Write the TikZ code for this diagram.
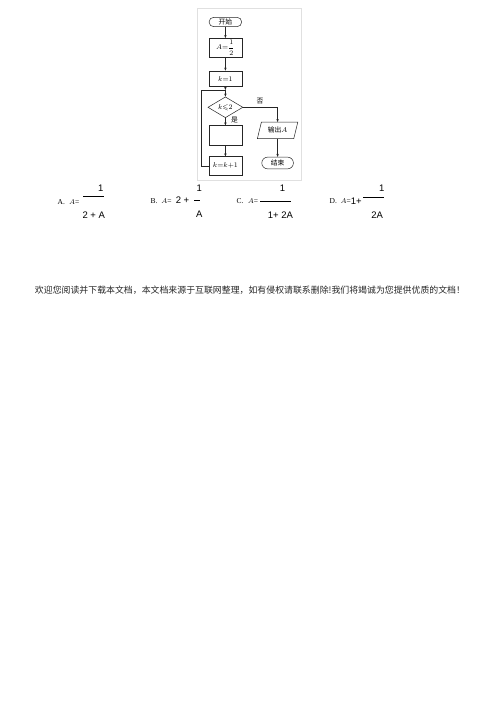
\documentclass[tikz,border=0pt]{standalone}
\usepackage{amsmath,amssymb}
\usepackage{fontspec}
\setmainfont{Liberation Serif}
\setsansfont{Liberation Sans}
\newfontfamily\cjk{Noto Sans CJK SC}
\usetikzlibrary{shapes.geometric,arrows.meta}
\tikzset{
  fl/.style={draw=black!85, line width=0.5pt},
  arr/.style={fl, -{Stealth[length=3pt,width=2.4pt]}},
  box/.style={fl, rectangle, inner sep=0pt, minimum width=33pt, font=\fontsize{7}{8}\selectfont},
  term/.style={fl, rectangle, rounded corners=4.6pt, inner sep=0pt, minimum width=32.6pt, minimum height=9.4pt, font=\cjk\fontsize{6.8}{8}\selectfont},
  dia/.style={fl, diamond, inner sep=0pt, minimum width=35pt, minimum height=18.4pt, font=\fontsize{7}{8}\selectfont},
  lbl/.style={inner sep=0pt, font=\cjk\fontsize{6.8}{8}\selectfont},
  opt/.style={inner sep=0pt, font=\fontsize{7.5}{9}\selectfont},
  num/.style={inner sep=0pt, font=\sffamily\fontsize{9.5}{11}\selectfont},
}
\begin{document}
\begin{tikzpicture}[x=1pt,y=-1pt]
\useasboundingbox (0,0) rectangle (500,707);
\fill[white] (0,0) rectangle (500,707);
% frame of the flowchart picture
\draw[black!12, line width=0.6pt] (197.7,8.3) rectangle (301.7,180);
% flowchart nodes
\node[term] (start) at (225.4,22) {开始};
\node[box, minimum height=19pt] (a) at (225.4,47.8) {$A{=}\dfrac{1}{2}$};
\node[box, minimum height=15.7pt] (k1) at (225.4,78.8) {$k{=}1$};
\coordinate (j) at (225.4,90);
\node[dia] (d) at (225.4,107.3) {$k{\leqslant}2$};
\node[box, minimum height=19.3pt] (e) at (225.4,135.3) {};
\node[box, minimum height=18.3pt] (kk) at (225.4,165.8) {$k{=}k{+}1$};
\node[inner sep=0pt, minimum width=40pt, minimum height=16pt, font=\fontsize{6.8}{8}\selectfont] (out) at (277.6,130.3) {{\cjk 输出}$A$};
\draw[fl] ([xshift=4pt]out.north west) -- (out.north east) -- ([xshift=-4pt]out.south east) -- (out.south west) -- cycle;
\node[term, minimum width=31.6pt, minimum height=11.7pt, rounded corners=5.8pt] (end) at (277.6,163) {结束};
% connectors
\draw[arr] (start) -- (a);
\draw[arr] (a) -- (k1);
\draw[arr] (k1) -- (j);
\draw[arr] (j) -- (d);
\draw[arr] (d) -- (e);
\draw[arr] (e) -- (kk);
\draw[fl] (kk.west) -- ++(-7.3,0) |- (j);
\draw[arr] (d.east) -| (out.north);
\draw[arr] (out) -- (end);
\node[lbl] (yes) at (234.5,120.5) {是};
\node[lbl] (no) at (260,101) {否};
% options
\node[opt] (la) at (61.3,202) {A.};
\node[opt] (ea) at (74.2,202) {$A$=};
\coordinate (a1) at (83.3,196); \coordinate (a2) at (104,196);
\draw[line width=0.9pt] (a1) -- (a2);
\node[num] (na) at (100.7,188.7) {1};
\node[num] (da) at (93.8,215.3) {2 + A};
\node[opt] (lb) at (154,201) {B.};
\node[opt] (eb) at (166.5,201) {$A$=};
\node[num] (tb) at (182.5,200.5) {2 +};
\coordinate (b1) at (194,200); \coordinate (b2) at (199.5,200);
\draw[line width=0.6pt] (b1) -- (b2);
\node[num] (nb) at (199.3,188.5) {1};
\node[num] (db) at (199.3,214.5) {A};
\node[opt] (lc) at (240,201.3) {C.};
\node[opt] (ec) at (253,201.3) {$A$=};
\coordinate (c1) at (260,201.3); \coordinate (c2) at (290.5,201.3);
\draw[line width=0.6pt] (c1) -- (c2);
\node[num] (nc) at (282.5,188.7) {1};
\node[num] (dc) at (280.5,215.3) {1+ 2A};
\node[opt] (ld) at (333.3,201) {D.};
\node[opt] (ed) at (345.8,201) {$A$=};
\node[num] (td) at (356.2,201) {1+};
\coordinate (d1) at (363,197); \coordinate (d2) at (383.5,197);
\draw[line width=0.9pt] (d1) -- (d2);
\node[num] (nd) at (381.7,188.7) {1};
\node[num] (dd) at (377.2,215.3) {2A};
% footer
\node[inner sep=0pt, text=black!85, font=\cjk\fontsize{8.9}{10}\selectfont] (foot) at (250,290) {欢迎您阅读并下载本文档，本文档来源于互联网整理，如有侵权请联系删除!我们将竭诚为您提供优质的文档！};
\end{tikzpicture}
\end{document}
